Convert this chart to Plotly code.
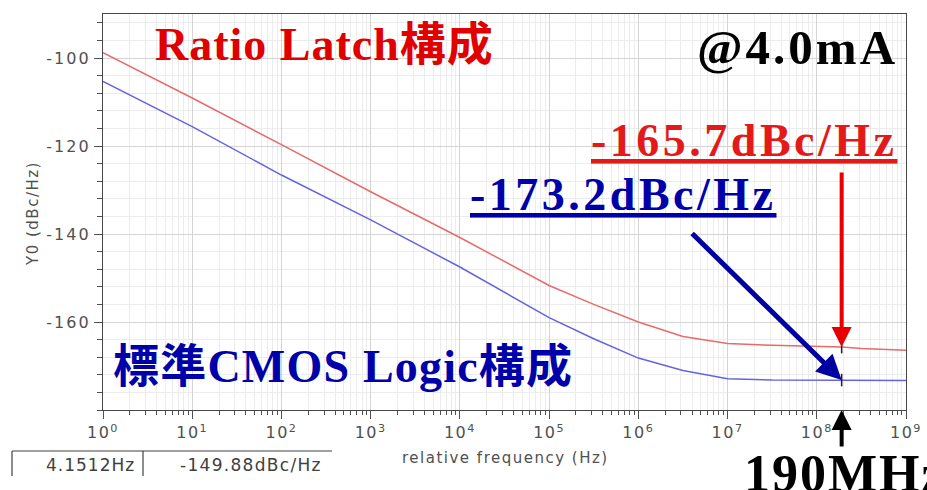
import math
import plotly.graph_objects as go

# Phase noise of the two oscillator variants (offset frequency in Hz, dBc/Hz)
freq_hz = [1, 10, 100, 1e3, 1e4, 1e5, 10**5.5, 1e6, 10**6.5, 1e7, 10**7.5, 1e8, 1.9e8, 10**8.5, 1e9]
ratio_latch_dbc = [-98.8, -109.1, -119.7, -130.4, -140.8, -151.7, -156.0, -160.0, -163.3,
                   -164.9, -165.3, -165.5, -165.7, -166.0, -166.4]
cmos_logic_dbc = [-105.3, -115.6, -126.6, -136.8, -147.5, -159.0, -163.8, -168.2, -171.0,
                  -172.9, -173.2, -173.2, -173.2, -173.3, -173.3]

# Operating point that is marked on both curves
mark_freq_hz = 1.9e8
mark_ratio_dbc = -165.7
mark_cmos_dbc = -173.2

# Axis ticks
x_exponents = list(range(10))
x_tick_vals = [10**n for n in x_exponents]
x_minor_vals = [k * 10**n for n in range(9) for k in range(2, 10)]
y_tick_vals = [-100, -120, -140, -160]
y_tick_text = ["-100", "-120", "-140", "-160"]

# Cursor readout shown under the plot
readout_freq = "4.1512Hz"
readout_level = "-149.88dBc/Hz"

W, H = 927, 490
L, R, T, B = 103, 906, 14, 410


def paper(px, py):
    """Pixel position on the page -> paper coordinates."""
    return (px - L) / (R - L), (B - py) / (B - T)


def spaced(text, px):
    """Wrap text in a span with extra letter spacing."""
    return f'<span style="letter-spacing:{px}px">{text}</span>'


SERIF = "Liberation Serif, Times New Roman, Noto Sans CJK JP, serif"
SANS = "DejaVu Sans, Verdana, sans-serif"
RED = "#e00000"
BLUE = "#0000aa"
GREY = "#505050"

x_tick_text = [spaced(f"10<sup>{n}</sup>", 1.5) for n in x_exponents]
y_tick_text_sp = [spaced(t, 2) for t in y_tick_text]

fig = go.Figure()
fig.add_trace(go.Scatter(x=freq_hz, y=ratio_latch_dbc, mode="lines",
                         line=dict(color="#e86a6a", width=1.5), hoverinfo="skip"))
fig.add_trace(go.Scatter(x=freq_hz, y=cmos_logic_dbc, mode="lines",
                         line=dict(color="#6464e0", width=1.5), hoverinfo="skip"))
fig.add_trace(go.Scatter(x=[mark_freq_hz, mark_freq_hz], y=[mark_ratio_dbc, mark_cmos_dbc],
                         mode="markers",
                         marker=dict(symbol="line-ns", size=9, line=dict(color="#202020", width=1.5)),
                         hoverinfo="skip"))

axis_common = dict(showline=True, linecolor="#484848", linewidth=1.3, mirror=True,
                   ticks="outside", tickcolor=GREY, ticklen=8, tickwidth=1.2,
                   tickfont=dict(family=SANS, size=16, color=GREY),
                   showgrid=True, gridcolor="#d4d4d4", gridwidth=1, zeroline=False,
                   automargin=False)

fig.update_layout(
    width=W, height=H,
    margin=dict(l=L, r=W - R, t=T, b=H - B),
    paper_bgcolor="white", plot_bgcolor="white",
    showlegend=False,
    xaxis=dict(type="log", range=[0, 9], tickmode="array",
               tickvals=x_tick_vals, ticktext=x_tick_text,
               minor=dict(tickmode="array", tickvals=x_minor_vals, ticks="outside",
                          ticklen=4, tickcolor=GREY, showgrid=True,
                          gridcolor="#ececec", gridwidth=1),
               **axis_common),
    yaxis=dict(range=[-180, -90], tickmode="array",
               tickvals=y_tick_vals, ticktext=y_tick_text_sp,
               minor=dict(dtick=4, tick0=-180, ticks="outside", ticklen=5,
                          tickcolor=GREY, showgrid=True,
                          gridcolor="#ececec", gridwidth=1),
               **axis_common),
)

ann = []


def label(text, px, py, xanchor, size, color, family=SERIF, bold=True, yanchor="middle",
          spacing=0):
    x, y = paper(px, py)
    if spacing:
        text = spaced(text, spacing)
    ann.append(dict(text=text, x=x, y=y, xref="paper", yref="paper",
                    xanchor=xanchor, yanchor=yanchor, showarrow=False,
                    font=dict(family=family, size=size, color=color,
                              weight="bold" if bold else "normal")))


label("Ratio Latch構成", 153, 44, "left", 46, RED, spacing=1)
label("@4.0mA", 900, 47, "right", 49, "#000000", spacing=3)
label("<u>-165.7dBc/Hz</u>", 899, 140, "right", 46, "#e41a1a", spacing=3.5)
label("<u>-173.2dBc/Hz</u>", 468, 194, "left", 46, BLUE, spacing=3.5)
label("標準CMOS Logic構成", 111, 366, "left", 46, BLUE, spacing=1.2)
label("190MHz", 742, 473, "left", 52, "#000000", spacing=2)

# axis titles
label("relative frequency (Hz)", 505, 458, "center", 15, GREY, family=SANS, bold=False,
      spacing=1.5)
x0, y0 = paper(33, 214)
ann.append(dict(text=spaced("Y0 (dBc/Hz)", 1.5), x=x0, y=y0, xref="paper", yref="paper",
                textangle=-90, showarrow=False, xanchor="center", yanchor="middle",
                font=dict(family=SANS, size=15, color=GREY)))

# cursor readout
label(readout_freq, 137, 465, "right", 17, "#404040", family=SANS, bold=False, spacing=1)
label(readout_level, 178, 465, "left", 17, "#404040", family=SANS, bold=False, spacing=1.3)

# arrows pointing at the marked operating point
mark_x = math.log10(mark_freq_hz)
ann.append(dict(x=mark_x, y=mark_ratio_dbc, xref="x", yref="y", text="", showarrow=True,
                ax=0, ay=-176, arrowcolor="#e80000", arrowwidth=4, arrowhead=2, arrowsize=1))
ann.append(dict(x=mark_x, y=mark_cmos_dbc, xref="x", yref="y", text="", showarrow=True,
                ax=-151, ay=-148, arrowcolor="#0000a0", arrowwidth=5, arrowhead=2, arrowsize=1))
ann.append(dict(x=mark_x, y=0, xref="x", yref="paper", text="", showarrow=True,
                ax=0, ay=38, arrowcolor="#000000", arrowwidth=4, arrowhead=2, arrowsize=1))

fig.update_layout(annotations=ann)

# readout box outline
bx0, by0 = paper(12, 451)
bx1, by1 = paper(143, 476)
bx2, _ = paper(332, 451)
line_style = dict(color="#404040", width=1.2)
fig.add_shape(type="line", xref="paper", yref="paper", x0=bx0, y0=by0, x1=bx2, y1=by0, line=line_style)
fig.add_shape(type="line", xref="paper", yref="paper", x0=bx0, y0=by0, x1=bx0, y1=by1, line=line_style)
fig.add_shape(type="line", xref="paper", yref="paper", x0=bx1, y0=by0, x1=bx1, y1=by1, line=line_style)

fig.write_html("out.html")
